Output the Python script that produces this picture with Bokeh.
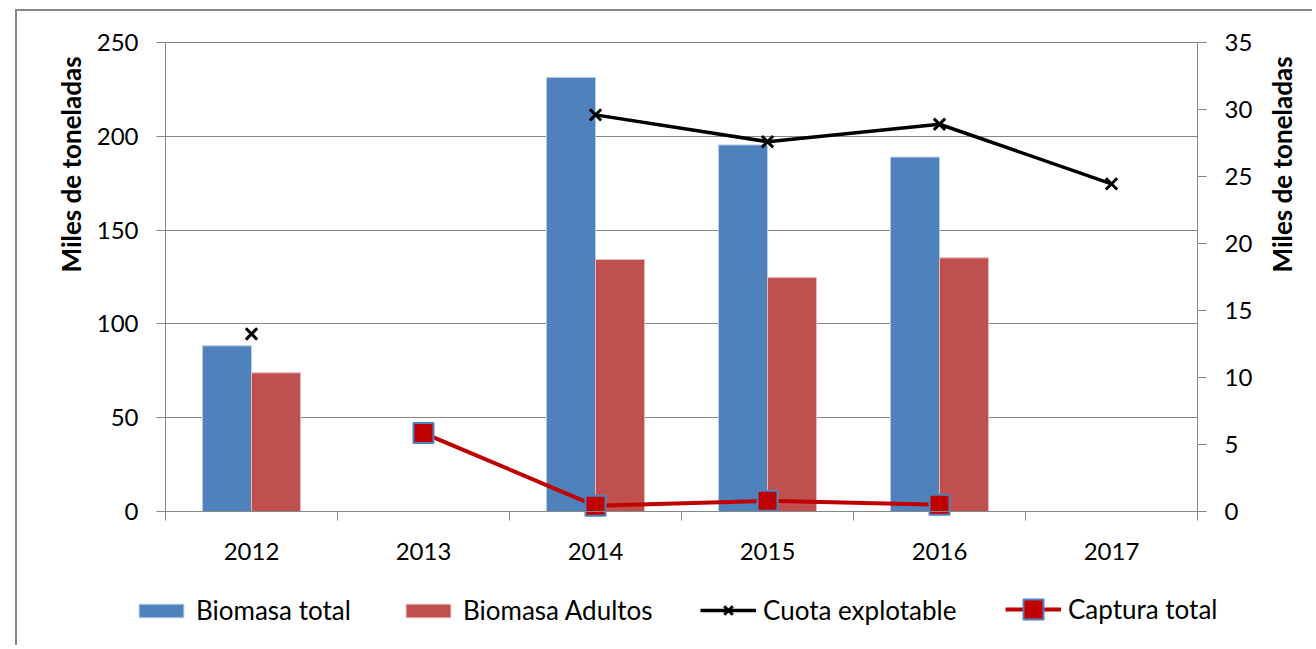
import math
from bokeh.plotting import figure
from bokeh.models import (Range1d, LinearAxis, FixedTicker, Legend, LegendItem,
                          Label)
from bokeh.embed import file_html
from bokeh.resources import INLINE

nan = float("nan")

years = ["2012", "2013", "2014", "2015", "2016", "2017"]
biomasa_total = [88.3, nan, 231.4, 195.4, 188.9, nan]
biomasa_adultos = [73.9, nan, 134.3, 124.7, 135.2, nan]
cuota_explotable = [13.25, nan, 29.6, 27.6, 28.9, 24.45]
captura_total = [nan, 5.85, 0.42, 0.8, 0.5, nan]

left_ticks = [0, 50, 100, 150, 200, 250]
right_ticks = [0, 5, 10, 15, 20, 25, 30, 35]
LEFT_MAX = 250
RIGHT_MAX = 35
TITLE = "Miles de toneladas"

FONT = "Lato"
GRAY = "#868686"
BLUE = "#4F81BD"
RED = "#C0504D"
DARKRED = "#C00000"

# ---- layout (page pixels) ----
CAN_X0, CAN_Y0 = 17, 11          # canvas origin on page (after margin+border)
W, H = 1297, 636                 # canvas size
AX_L, AX_R = 165, 1197           # plot area left/right on page
AX_T, AX_B = 42, 511             # plot area top/bottom on page

n = len(years)
px_x = (AX_R - AX_L) / n
x_lo = (CAN_X0 - AX_L) / px_x
x_hi = n + (CAN_X0 + W - AX_R) / px_x
py_l = (AX_B - AX_T) / LEFT_MAX
yl_lo = -(CAN_Y0 + H - AX_B) / py_l
yl_hi = LEFT_MAX + (AX_T - CAN_Y0) / py_l
py_r = (AX_B - AX_T) / RIGHT_MAX
yr_lo = -(CAN_Y0 + H - AX_B) / py_r
yr_hi = RIGHT_MAX + (AX_T - CAN_Y0) / py_r

centers = [i + 0.5 for i in range(n)]
bounds = [i for i in range(n + 1)]
x_blue = [i + 0.3575 for i in range(n)]
x_red = [i + 0.6425 for i in range(n)]

p = figure(width=W, height=H, output_backend="svg", toolbar_location=None,
           x_range=Range1d(x_lo, x_hi), y_range=Range1d(yl_lo, yl_hi),
           min_border_left=0, min_border_right=0, min_border_top=0,
           min_border_bottom=0)
p.margin = (9, 0, 0, 15)
p.styles = {"border-left": "2px solid #878787", "border-top": "2px solid #878787"}
p.outline_line_color = None
p.background_fill_color = "white"
p.border_fill_color = "white"
p.extra_y_ranges = {"right": Range1d(yr_lo, yr_hi)}

# x axis (fixed at y = 0)
xa = p.xaxis[0]
xa.fixed_location = 0
xa.bounds = (0, n)
xa.ticker = FixedTicker(ticks=centers, minor_ticks=bounds)
xa.major_label_overrides = {c: y for c, y in zip(centers, years)}
xa.major_tick_in = 0
xa.major_tick_out = 0
xa.minor_tick_in = 0
xa.minor_tick_out = 9
xa.minor_tick_line_color = GRAY
xa.axis_line_color = GRAY
xa.major_label_standoff = 22
xa.major_label_text_font = FONT
xa.major_label_text_font_size = "24px"
xa.major_label_text_color = "black"

# left axis (fixed at x = 0)
ya = p.yaxis[0]
ya.fixed_location = 0
ya.bounds = (0, LEFT_MAX)
ya.ticker = FixedTicker(ticks=left_ticks)
ya.major_label_text_font = FONT
ya.major_label_text_font_size = "24px"
ya.major_label_text_color = "black"
ya.major_label_standoff = 18
ya.major_tick_in = 0
ya.major_tick_out = 9
ya.minor_tick_line_color = None
ya.axis_line_color = GRAY
ya.major_tick_line_color = GRAY

# right axis (fixed at x = n)
ra = LinearAxis(y_range_name="right", ticker=FixedTicker(ticks=right_ticks))
ra.fixed_location = n
ra.bounds = (0, RIGHT_MAX)
ra.major_label_text_font = FONT
ra.major_label_text_font_size = "24px"
ra.major_label_text_color = "black"
ra.major_label_standoff = 18
ra.major_tick_in = 0
ra.major_tick_out = 9
ra.minor_tick_line_color = None
ra.axis_line_color = GRAY
ra.major_tick_line_color = GRAY
p.add_layout(ra, "right")

p.xgrid.grid_line_color = None
p.ygrid.ticker = FixedTicker(ticks=left_ticks)
p.ygrid.grid_line_color = GRAY
p.ygrid.grid_line_width = 1
p.ygrid.cross_bounds = (0, n)

# bars
r_bt = p.vbar(x=x_blue, top=biomasa_total, width=0.285, fill_color=BLUE,
              line_color="#B9CDE5", line_width=1)
r_ba = p.vbar(x=x_red, top=biomasa_adultos, width=0.285, fill_color=RED,
              line_color="#E6B9B8", line_width=1)

# cuota line
r_cl = p.line(centers, cuota_explotable, y_range_name="right", line_color="black",
              line_width=3.5)
r_cm = p.scatter(centers, cuota_explotable, y_range_name="right", marker="x",
                 size=16, line_color="black", line_width=3)

# captura line
r_pl = p.line(centers, captura_total, y_range_name="right", line_color=DARKRED,
              line_width=4)
r_pm = p.scatter(centers, captura_total, y_range_name="right", marker="square",
                 size=20, fill_color=DARKRED, line_color=BLUE, line_width=2)

# axis titles
for tx in (70, 1281):
    p.add_layout(Label(x=tx - CAN_X0, y=CAN_Y0 + H - 272, x_units="screen",
                       y_units="screen", text=TITLE, angle=math.pi / 2,
                       text_align="left", text_baseline="middle",
                       text_font=FONT, text_font_style="bold",
                       text_font_size="26px", text_color="black"))

# legends (one per entry, placed like the reference)
LEG_CY = 610.5
entries = [("Biomasa total", [r_bt], 133, 17, 31),
           ("Biomasa Adultos", [r_ba], 400, 17, 31),
           ("Cuota explotable", [r_cl, r_cm], 700, 30, 31),
           ("Captura total", [r_pl, r_pm], 1005, 50, 47)]
for label, rends, lx, gh, rowh in entries:
    vy = (CAN_Y0 + H - LEG_CY) - rowh / 2
    lg = Legend(items=[LegendItem(label=label, renderers=rends)],
                location=(lx - CAN_X0, vy), orientation="horizontal",
                glyph_width=56, glyph_height=gh, label_height=gh,
                label_standoff=7, padding=0, margin=0,
                border_line_color=None, background_fill_alpha=0,
                label_text_font=FONT, label_text_font_size="26px",
                label_text_color="black")
    p.add_layout(lg, "center")

open("out.html", "w").write(file_html(p, INLINE))
